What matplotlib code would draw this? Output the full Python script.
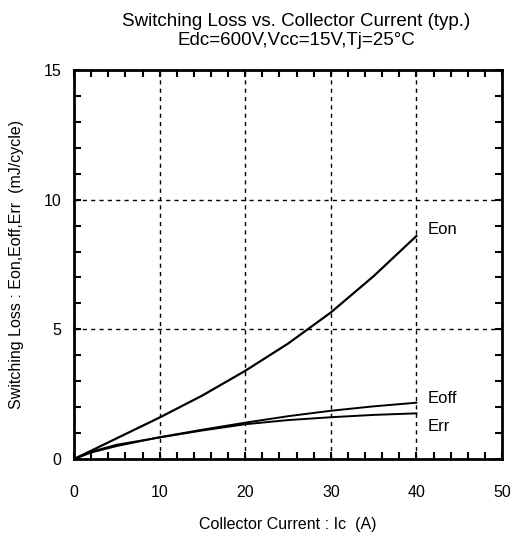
import numpy as np
import matplotlib.pyplot as plt
from matplotlib.ticker import MultipleLocator

plt.rcParams['font.family'] = ['Liberation Sans', 'DejaVu Sans']

# Data (Ic in A, energy in mJ/cycle)
ic = [0, 2, 5, 10, 15, 20, 25, 30, 35, 40]
eon = [0, 0.32, 0.8, 1.6, 2.45, 3.4, 4.45, 5.65, 7.05, 8.6]
eoff = [0, 0.25, 0.5, 0.84, 1.13, 1.40, 1.65, 1.86, 2.03, 2.17]
err = [0, 0.28, 0.55, 0.83, 1.10, 1.34, 1.50, 1.61, 1.70, 1.76]

fig = plt.figure(figsize=(5.29, 5.41), dpi=100)
ax = fig.add_axes([0.14, 0.1516, 0.809, 0.719])

ax.plot(ic, eon, color='black', lw=1.6)
ax.plot(ic, eoff, color='black', lw=1.4)
ax.plot(ic, err, color='black', lw=1.4)

ax.text(41.3, 8.85, 'Eon', fontsize=12, va='center')
ax.text(41.3, 2.35, 'Eoff', fontsize=12, va='center')
ax.text(41.3, 1.25, 'Err', fontsize=12, va='center')

ax.set_xlim(0, 50)
ax.set_ylim(0, 15)
ax.xaxis.set_major_locator(MultipleLocator(10))
ax.xaxis.set_minor_locator(MultipleLocator(2))
ax.yaxis.set_major_locator(MultipleLocator(5))
ax.yaxis.set_minor_locator(MultipleLocator(1))
ax.tick_params(which='both', direction='in', top=True, right=True, width=1.5, labelsize=11.5)
ax.tick_params(which='major', length=5)
ax.tick_params(which='minor', length=5)
ax.tick_params(axis='x', which='major', pad=19)
ax.tick_params(axis='y', which='major', pad=9)
ax.grid(True, which='major', color='black', linestyle=(0, (3, 3)), lw=1.0)
for s in ax.spines.values():
    s.set_linewidth(2)

ax.set_xlabel('Collector Current : Ic  (A)', fontsize=11.5, labelpad=12)
ax.set_ylabel('Switching Loss : Eon,Eoff,Err  (mJ/cycle)', fontsize=11.5, labelpad=14)
ax.set_title('Switching Loss vs. Collector Current (typ.)\nEdc=600V,Vcc=15V,Tj=25°C',
             fontsize=13.5, pad=18, x=0.52, linespacing=1.15)

plt.savefig('out.png', dpi=100)
